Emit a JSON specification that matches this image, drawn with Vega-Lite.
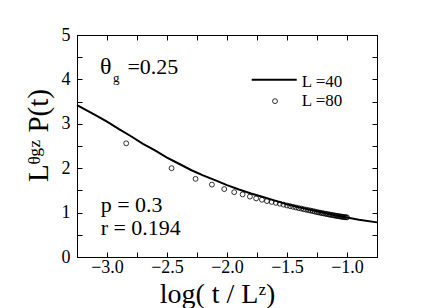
{
  "$schema": "https://vega.github.io/schema/vega-lite/v6.json",
  "width": 300,
  "height": 222,
  "autosize": {"type": "none"},
  "padding": {"left": 77, "top": 35, "right": 59, "bottom": 51},
  "background": "white",
  "config": {
    "view": {"stroke": "black", "strokeWidth": 1},
    "font": "Liberation Serif, Times New Roman, serif",
    "text": {"font": "Liberation Serif, Times New Roman, serif"},
    "axis": {
      "labelFont": "Liberation Serif, Times New Roman, serif",
      "titleFont": "Liberation Serif, Times New Roman, DejaVu Serif, serif",
      "labelColor": "black",
      "titleColor": "black",
      "domainColor": "black",
      "tickColor": "black",
      "grid": false,
      "titleFontWeight": "normal"
    }
  },
  "datasets": {
    "l40": [
      {"x": -3.25, "y": 3.42}, {"x": -3.1, "y": 3.2}, {"x": -3.0, "y": 3.05}, {"x": -2.9, "y": 2.88},
      {"x": -2.8, "y": 2.72}, {"x": -2.7, "y": 2.55}, {"x": -2.6, "y": 2.4}, {"x": -2.5, "y": 2.24},
      {"x": -2.4, "y": 2.1}, {"x": -2.3, "y": 1.96}, {"x": -2.2, "y": 1.84}, {"x": -2.1, "y": 1.73},
      {"x": -2.0, "y": 1.62}, {"x": -1.9, "y": 1.52}, {"x": -1.8, "y": 1.43}, {"x": -1.7, "y": 1.35},
      {"x": -1.6, "y": 1.27}, {"x": -1.5, "y": 1.19}, {"x": -1.4, "y": 1.12}, {"x": -1.3, "y": 1.06},
      {"x": -1.2, "y": 1.0}, {"x": -1.1, "y": 0.94}, {"x": -1.0, "y": 0.89}, {"x": -0.9, "y": 0.84},
      {"x": -0.75, "y": 0.78}
    ],
    "l80": [
      {"x": -2.84, "y": 2.56}, {"x": -2.462, "y": 2.0}, {"x": -2.262, "y": 1.76}, {"x": -2.126, "y": 1.63},
      {"x": -2.023, "y": 1.53}, {"x": -1.94, "y": 1.46}, {"x": -1.87, "y": 1.41}, {"x": -1.809, "y": 1.36},
      {"x": -1.757, "y": 1.32}, {"x": -1.709, "y": 1.29}, {"x": -1.667, "y": 1.26}, {"x": -1.628, "y": 1.24},
      {"x": -1.593, "y": 1.22}, {"x": -1.56, "y": 1.2}, {"x": -1.529, "y": 1.18}, {"x": -1.5, "y": 1.16},
      {"x": -1.474, "y": 1.145}, {"x": -1.449, "y": 1.13}, {"x": -1.425, "y": 1.115}, {"x": -1.402, "y": 1.1},
      {"x": -1.381, "y": 1.09}, {"x": -1.36, "y": 1.075}, {"x": -1.341, "y": 1.065}, {"x": -1.322, "y": 1.055},
      {"x": -1.304, "y": 1.045}, {"x": -1.287, "y": 1.035}, {"x": -1.27, "y": 1.025}, {"x": -1.254, "y": 1.015},
      {"x": -1.239, "y": 1.005}, {"x": -1.224, "y": 0.997}, {"x": -1.21, "y": 0.99}, {"x": -1.196, "y": 0.982},
      {"x": -1.182, "y": 0.975}, {"x": -1.169, "y": 0.968}, {"x": -1.156, "y": 0.962}, {"x": -1.144, "y": 0.955},
      {"x": -1.132, "y": 0.949}, {"x": -1.12, "y": 0.943}, {"x": -1.109, "y": 0.938}, {"x": -1.098, "y": 0.932},
      {"x": -1.087, "y": 0.927}, {"x": -1.077, "y": 0.922}, {"x": -1.066, "y": 0.917}, {"x": -1.056, "y": 0.913},
      {"x": -1.047, "y": 0.909}, {"x": -1.037, "y": 0.905}, {"x": -1.028, "y": 0.901}, {"x": -1.018, "y": 0.898},
      {"x": -1.009, "y": 0.895}, {"x": -1.0, "y": 0.892}
    ],
    "notes": [
      {"x": -3.058, "y": 4.12, "label": "θ", "kind": "big"},
      {"x": -2.83, "y": 4.12, "label": "=0.25", "kind": "main"},
      {"x": -3.053, "y": 1.02, "label": "p = 0.3", "kind": "main"},
      {"x": -3.053, "y": 0.495, "label": "r = 0.194", "kind": "main"}
    ],
    "subs": [
      {"x": -2.95, "y": 3.94, "label": "g"}
    ],
    "legendline": [
      {"x": -1.794, "x2": -1.419, "y": 3.99}
    ],
    "legendpoint": [
      {"x": -1.6, "y": 3.51}
    ],
    "legendtext": [
      {"x": -1.378, "y": 3.84, "label": "L =40"},
      {"x": -1.378, "y": 3.39, "label": "L =80"}
    ]
  },
  "resolve": {"axis": {"x": "independent", "y": "independent"}},
  "layer": [
    {
      "data": {"name": "l40"},
      "mark": {"type": "line", "color": "black", "strokeWidth": 2},
      "encoding": {
        "x": {
          "field": "x", "type": "quantitative",
          "scale": {"domain": [-3.25, -0.75], "nice": false, "zero": false},
          "axis": {
            "orient": "bottom",
            "values": [-3.0, -2.75, -2.5, -2.25, -2.0, -1.75, -1.5, -1.25, -1.0],
            "labelExpr": "abs(datum.value * 2 - round(datum.value * 2)) < 0.001 ? format(datum.value, '.1f') : ''",
            "tickSize": -5,
            "labelPadding": 6,
            "labelFontSize": 18,
            "labelFlush": false,
            "title": "log( t / Lᶻ)",
            "titleFontSize": 28,
            "titleBaseline": "alphabetic",
            "titleX": 140,
            "titleY": 45,
            "titleAlign": "center"
          }
        },
        "y": {
          "field": "y", "type": "quantitative",
          "scale": {"domain": [0, 5], "nice": false},
          "axis": {
            "orient": "left",
            "values": [0, 0.5, 1, 1.5, 2, 2.5, 3, 3.5, 4, 4.5, 5],
            "labelExpr": "datum.value % 1 == 0 ? format(datum.value, 'd') : ''",
            "tickSize": -5,
            "labelPadding": 12,
            "labelFontSize": 18,
            "labelFlush": false,
            "title": "Lᶿᵍᶻ P(t)",
            "titleFontSize": 29,
            "titleBaseline": "alphabetic",
            "titleAngle": 270,
            "titleX": -30,
            "titleY": 100,
            "titleAlign": "center"
          }
        }
      }
    },
    {
      "data": {"name": "l80"},
      "mark": {"type": "point", "shape": "circle", "filled": false, "color": "black", "strokeWidth": 0.8, "size": 24, "opacity": 1},
      "encoding": {
        "x": {
          "field": "x", "type": "quantitative",
          "axis": {
            "orient": "top",
            "values": [-3.0, -2.75, -2.5, -2.25, -2.0, -1.75, -1.5, -1.25, -1.0],
            "labels": false, "tickSize": -5, "title": null
          }
        },
        "y": {
          "field": "y", "type": "quantitative",
          "axis": {
            "orient": "right",
            "values": [0, 0.5, 1, 1.5, 2, 2.5, 3, 3.5, 4, 4.5, 5],
            "labels": false, "tickSize": -5, "title": null
          }
        }
      }
    },
    {
      "data": {"name": "notes"},
      "mark": {"type": "text", "align": "left", "baseline": "alphabetic", "color": "black"},
      "encoding": {
        "x": {"field": "x", "type": "quantitative", "axis": null},
        "y": {"field": "y", "type": "quantitative", "axis": null},
        "text": {"field": "label"},
        "size": {"field": "kind", "type": "nominal", "scale": {"domain": ["big", "main"], "range": [24, 22]}, "legend": null}
      }
    },
    {
      "data": {"name": "subs"},
      "mark": {"type": "text", "align": "left", "baseline": "alphabetic", "color": "black", "fontSize": 13},
      "encoding": {
        "x": {"field": "x", "type": "quantitative", "axis": null},
        "y": {"field": "y", "type": "quantitative", "axis": null},
        "text": {"field": "label"}
      }
    },
    {
      "data": {"name": "legendline"},
      "mark": {"type": "rule", "color": "black", "strokeWidth": 2},
      "encoding": {
        "x": {"field": "x", "type": "quantitative", "axis": null},
        "x2": {"field": "x2"},
        "y": {"field": "y", "type": "quantitative", "axis": null}
      }
    },
    {
      "data": {"name": "legendpoint"},
      "mark": {"type": "point", "shape": "circle", "filled": false, "color": "black", "strokeWidth": 0.8, "size": 24, "opacity": 1},
      "encoding": {
        "x": {"field": "x", "type": "quantitative", "axis": null},
        "y": {"field": "y", "type": "quantitative", "axis": null}
      }
    },
    {
      "data": {"name": "legendtext"},
      "mark": {"type": "text", "align": "left", "baseline": "alphabetic", "color": "black", "fontSize": 17},
      "encoding": {
        "x": {"field": "x", "type": "quantitative", "axis": null},
        "y": {"field": "y", "type": "quantitative", "axis": null},
        "text": {"field": "label"}
      }
    }
  ]
}
